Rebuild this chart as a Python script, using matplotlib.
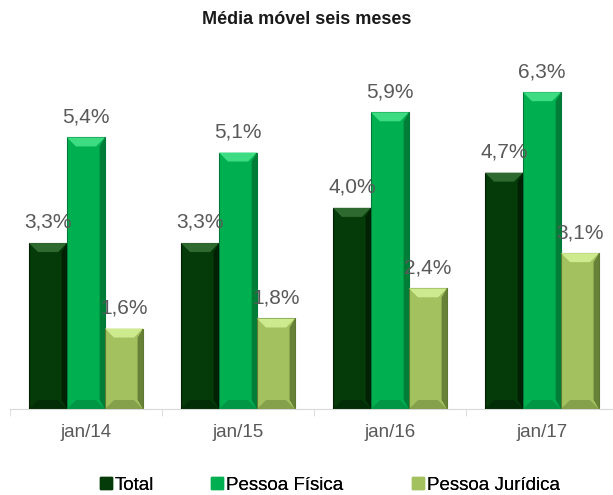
import matplotlib
matplotlib.use('agg')
import matplotlib.pyplot as plt
from matplotlib.patches import Polygon, Patch
import numpy as np

plt.rcParams['font.family'] = ['Liberation Sans', 'DejaVu Sans']

categories = ["jan/14", "jan/15", "jan/16", "jan/17"]
series = ["Total", "Pessoa Física", "Pessoa Jurídica"]
total = [3.3, 3.3, 4.0, 4.7]
pessoa_fisica = [5.4, 5.1, 5.9, 6.3]
pessoa_juridica = [1.6, 1.8, 2.4, 3.1]

colors = ["#053A09", "#00B050", "#A3C25F"]
tops = ["#2E6A30", "#3DDC83", "#CDEB8E"]
darks = ["#011503", "#006A2E", "#4F6526"]
edges = ["#021F04", "#007A38", "#5F7A30"]

W, H = 613, 495
fig = plt.figure(figsize=(W / 100, H / 100), dpi=100)
# axes placed in pixel coordinates
left, right, bottom, top = 10, 618, 409, 57
ax = fig.add_axes([left / W, 1 - bottom / H, (right - left) / W, (bottom - top) / H])

x = np.arange(len(categories))
bw = 0.25
ymax = 7
bx = 9 / (right - left) * len(categories)   # bevel size in data units
by = 9 / (bottom - top) * ymax

values = [total, pessoa_fisica, pessoa_juridica]
for i, (vals, name) in enumerate(zip(values, series)):
    pos = x + (i - 1) * bw
    bars = ax.bar(pos, vals, bw, color=colors[i], edgecolor=edges[i],
                  linewidth=0.8, label=name, zorder=2)
    for r in bars:
        x0, x1, h = r.get_x(), r.get_x() + r.get_width(), r.get_height()
        # bevel: light top, dark right side, dark bottom
        ax.add_patch(Polygon([(x0, h), (x1, h), (x1 - bx, h - by), (x0 + bx, h - by)],
                             closed=True, color=tops[i], lw=0, zorder=3))
        ax.add_patch(Polygon([(x1, h), (x1, 0), (x1 - bx * 0.6, by), (x1 - bx * 0.6, h - by)],
                             closed=True, color=darks[i], lw=0, alpha=0.7, zorder=3))
        ax.add_patch(Polygon([(x0, 0), (x1, 0), (x1 - bx, by), (x0 + bx, by)],
                             closed=True, color=darks[i], lw=0, alpha=0.35, zorder=3))
    for p, v in zip(pos, vals):
        ax.annotate(f"{v:.1f}%".replace(".", ","), (p, v), xytext=(0, 8),
                    textcoords="offset points", ha="center", va="bottom",
                    fontsize=15, color="#595959", zorder=4)

ax.set_xlim(-0.5, len(categories) - 0.5)
ax.set_ylim(0, ymax)
ax.set_yticks([])
for s in ["top", "right", "left"]:
    ax.spines[s].set_visible(False)
ax.spines["bottom"].set_color("#D9D9D9")
ax.set_xticks(x)
ax.set_xticklabels(categories, fontsize=13.5, color="#595959")
ax.tick_params(axis="x", which="major", length=0, pad=11)
ax.set_xticks(np.arange(len(categories) + 1) - 0.5, minor=True)
ax.tick_params(axis="x", which="minor", length=5, color="#D9D9D9")

fig.text(0.5, 1 - 19 / H, "Média móvel seis meses", ha="center", va="center",
         fontsize=13, fontweight="bold", color="#1a1a1a")

# legend entries placed individually like the original
leg_x = [100, 211, 412]
for name, c, lx in zip(series, colors, leg_x):
    lg = fig.legend(handles=[Patch(facecolor=c, edgecolor=c)], labels=[name],
                    loc="center left", bbox_to_anchor=(lx / W, 1 - 485 / H),
                    frameon=False, fontsize=13.5, handlelength=0.65, handleheight=0.65,
                    handletextpad=0.15, borderpad=0, borderaxespad=0)
    fig.add_artist(lg)

plt.savefig("out.png", dpi=100)
